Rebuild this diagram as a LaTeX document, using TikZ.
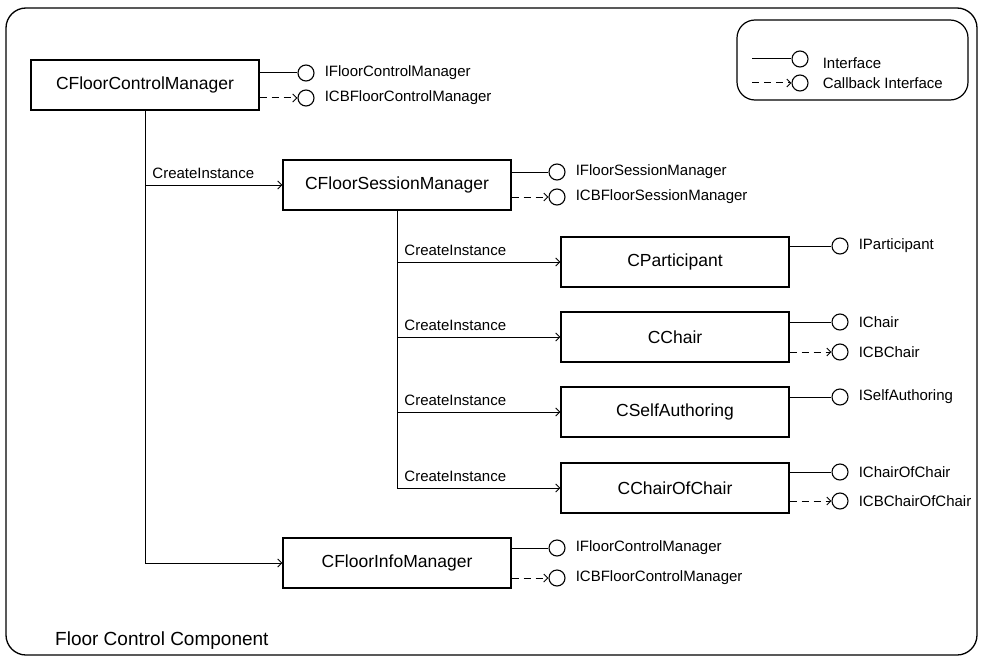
\documentclass[tikz,border=0pt]{standalone}
\usepackage{fontspec}
\setmainfont{Liberation Sans}
\usetikzlibrary{positioning, arrows.meta}

\begin{document}
\begin{tikzpicture}[
            x=1pt, y=-1pt,
            comp/.style={draw, line width=1.3pt, minimum width=228pt, minimum height=50pt, inner sep=0pt, font=\fontsize{17.5}{20}\selectfont},
            port/.style={draw, circle, line width=1.1pt, minimum size=16pt, inner sep=0pt},
            portname/.style={inner sep=0pt, font=\fontsize{15}{18}\selectfont},
            provide/.style={line width=1pt},
            callback/.style={line width=1pt, dash pattern=on 7pt off 5pt, -{Straight Barb[length=4pt, width=8pt]}},
            create/.style={line width=0.9pt, -{Straight Barb[length=4pt, width=8pt]}},
            createname/.style={anchor=south west, inner sep=0pt, xshift=7pt, yshift=6pt, font=\fontsize{15}{18}\selectfont}
        ]
        \useasboundingbox (0,0) rectangle (981,658);
        % Component frame
        \node[draw, rounded corners=20pt, line width=1.3pt, minimum width=971pt, minimum height=647pt] (frame) at (491.5,331.5) {};
        \node[anchor=west, inner sep=0pt, font=\fontsize{19}{22}\selectfont] (title) at (55,641) {Floor Control Component};

        % Legend
        \node[draw, rounded corners=18pt, line width=1.2pt, minimum width=231pt, minimum height=80pt] (legend) at (852.5,60) {};
        \coordinate (lgA) at (752,59);
        \coordinate (lgB) at (752,83);
        \node[port] (lgIfc) at (800,59) {};
        \node[port] (lgCb) at (800,83) {};
        \draw[provide] (lgA) -- (lgIfc);
        \draw[callback] (lgB) -- (lgCb);
        \node[portname, right=14pt of lgIfc, yshift=-4pt] {Interface};
        \node[portname, right=14pt of lgCb] {Callback Interface};

        % Top level manager
        \node[comp] (FCM) at (145,85) {CFloorControlManager};
        \node[port] (pFCM) at (306,73) {};
        \node[port] (cFCM) at (306,98) {};
        \draw[provide] (FCM.east |- pFCM) -- (pFCM);
        \draw[callback] (FCM.east |- cFCM) -- (cFCM);
        \node[portname, right=10pt of pFCM] {IFloorControlManager};
        \node[portname, right=10pt of cFCM] {ICBFloorControlManager};

        % Session manager
        \node[comp] (FSM) at (397,185) {CFloorSessionManager};
        \node[port] (pFSM) at (557,172) {};
        \node[port] (cFSM) at (557,197) {};
        \draw[provide] (FSM.east |- pFSM) -- (pFSM);
        \draw[callback] (FSM.east |- cFSM) -- (cFSM);
        \node[portname, right=10pt of pFSM] {IFloorSessionManager};
        \node[portname, right=10pt of cFSM] {ICBFloorSessionManager};

        % Info manager
        \node[comp] (FIM) at (397,563) {CFloorInfoManager};
        \node[port] (pFIM) at (557,548) {};
        \node[port] (cFIM) at (557,578) {};
        \draw[provide] (FIM.east |- pFIM) -- (pFIM);
        \draw[callback] (FIM.east |- cFIM) -- (cFIM);
        \node[portname, right=10pt of pFIM] {IFloorControlManager};
        \node[portname, right=10pt of cFIM] {ICBFloorControlManager};

        % Objects made by the session manager
        \node[comp] (Part) at (675,262) {CParticipant};
        \node[comp] (Chair) at (675,337) {CChair};
        \node[comp] (Self) at (675,412) {CSelfAuthoring};
        \node[comp] (CoC) at (675,488) {CChairOfChair};

        \node[port] (pPart) at (840,246) {};
        \draw[provide] (Part.east |- pPart) -- (pPart);
        \node[portname, right=10pt of pPart] {IParticipant};

        \node[port] (pChair) at (840,322) {};
        \node[port] (cChair) at (840,352) {};
        \draw[provide] (Chair.east |- pChair) -- (pChair);
        \draw[callback] (Chair.east |- cChair) -- (cChair);
        \node[portname, right=10pt of pChair] {IChair};
        \node[portname, right=10pt of cChair] {ICBChair};

        \node[port] (pSelf) at (840,397) {};
        \draw[provide] (Self.east |- pSelf) -- (pSelf);
        \node[portname, right=10pt of pSelf] {ISelfAuthoring};

        \node[port] (pCoC) at (840,472) {};
        \node[port] (cCoC) at (840,501) {};
        \draw[provide] (CoC.east |- pCoC) -- (pCoC);
        \draw[callback] (CoC.east |- cCoC) -- (cCoC);
        \node[portname, right=10pt of pCoC] {IChairOfChair};
        \node[portname, right=10pt of cCoC] {ICBChairOfChair};

        % CreateInstance connectors
        \draw[create] (FCM.south) |- (FIM.west);
        \draw[create] (FCM.south |- FSM.west) -- (FSM.west) node[createname, pos=0] {CreateInstance};
        \draw[create] (FSM.south |- Part.west) -- (Part.west) node[createname, pos=0] {CreateInstance};
        \draw[create] (FSM.south |- Chair.west) -- (Chair.west) node[createname, pos=0] {CreateInstance};
        \draw[create] (FSM.south |- Self.west) -- (Self.west) node[createname, pos=0] {CreateInstance};
        \draw[create] (FSM.south) |- (CoC.west) node[createname, pos=0.5] {CreateInstance};
    \end{tikzpicture}
\end{document}
